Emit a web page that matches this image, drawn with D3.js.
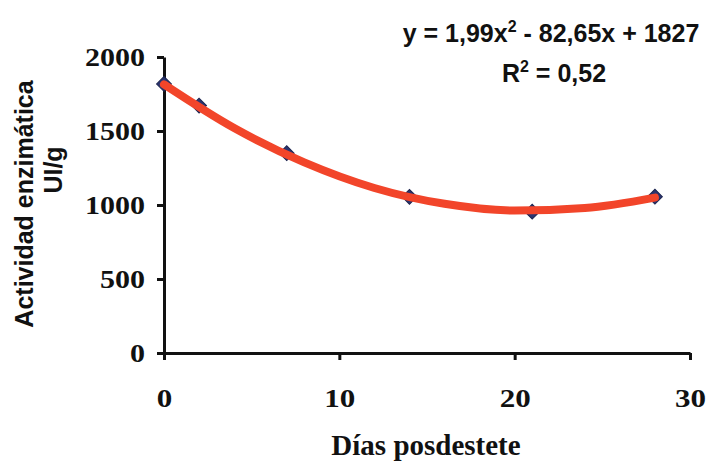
<!DOCTYPE html>
<html lang="es">
<head>
  <meta charset="UTF-8"/>
  <title>Actividad enzimática</title>
  <script src="https://d3js.org/d3.v7.min.js"></script>
  <style>
    body { margin: 0; background: #fff; }
    .serif { font-family: "Liberation Serif", "Times New Roman", serif; font-weight: bold; }
    .sans  { font-family: "Liberation Sans", Arial, sans-serif; font-weight: bold; }
  </style>
</head>
<body>
<script>

  // observed points
  var days     = [0, 2, 7, 14, 21, 28];
  var activity = [1818, 1672, 1350, 1055, 955, 1056];

  // polynomial trend line
  var trendDays  = [0, 4, 8, 12, 16, 20, 24, 28];
  var trendVals  = [1815, 1520, 1288, 1115, 1008, 963, 980, 1050];

  var xTicks = [0, 10, 20, 30];
  var yTicks = [0, 500, 1000, 1500, 2000];

  var w = 715;
  var h = 462;

  var x = d3.scaleLinear().domain([0, 30]).range([164, 690]);
  var y = d3.scaleLinear().domain([0, 2000]).range([353, 57]);

  var svg = d3.select("body")
              .append("svg")
              .attr("width", w)
              .attr("height", h);

  // y axis
  var yAxis = svg.append("g")
     .attr("transform", "translate(" + x(0) + ",0)")
     .call(d3.axisLeft(y).tickValues(yTicks).tickFormat(d3.format("d"))
             .tickSize(7).tickSizeOuter(0).tickPadding(12));

  yAxis.selectAll("text")
       .attr("class", "serif")
       .style("font-size", "25px")
       .attr("dy", "0.33em")
       .attr("textLength", function(d) { return String(d).length * 15; })
       .attr("lengthAdjust", "spacingAndGlyphs")
       .attr("fill", "#111");

  // x axis
  var xAxis = svg.append("g")
     .attr("transform", "translate(0," + y(0) + ")")
     .call(d3.axisBottom(x).tickValues(xTicks).tickFormat(d3.format("d"))
             .tickSize(7).tickSizeOuter(0));

  xAxis.selectAll("text")
       .attr("class", "serif")
       .style("font-size", "26px")
       .attr("y", 54)
       .attr("dy", 0)
       .attr("textLength", function(d) { return String(d).length * 15.5; })
       .attr("lengthAdjust", "spacingAndGlyphs")
       .attr("fill", "#111");

  svg.selectAll(".domain, .tick line")
     .attr("stroke", "#111")
     .attr("stroke-width", 3);

  // trend curve
  var line = d3.line()
               .x(function(d, i) { return x(trendDays[i]); })
               .y(function(d) { return y(d); })
               .curve(d3.curveMonotoneX);

  // markers
  svg.selectAll("path.pt")
     .data(days)
     .enter()
     .append("path")
     .attr("class", "pt")
     .attr("d", d3.symbol().type(d3.symbolSquare).size(110))
     .attr("transform", function(d, i) {
        return "translate(" + x(d) + "," + y(activity[i]) + ") rotate(45)";
     })
     .attr("fill", "#2a3570")
     .attr("stroke", "#1d2550")
     .attr("stroke-width", 1);

  svg.append("path")
     .datum(trendVals)
     .attr("d", line)
     .attr("fill", "none")
     .attr("stroke", "#f2452a")
     .attr("stroke-width", 8)
     .attr("stroke-linecap", "round");

  // axis titles
  svg.append("text")
     .attr("class", "serif")
     .attr("x", 426)
     .attr("y", 455)
     .attr("text-anchor", "middle")
     .style("font-size", "29px")
     .attr("fill", "#111")
     .text("Días posdestete");

  svg.append("text")
     .attr("class", "sans")
     .attr("transform", "translate(33,204) rotate(-90)")
     .attr("text-anchor", "middle")
     .style("font-size", "25px")
     .attr("fill", "#111")
     .text("Actividad enzimática");

  svg.append("text")
     .attr("class", "sans")
     .attr("transform", "translate(62,170) rotate(-90)")
     .attr("text-anchor", "middle")
     .style("font-size", "25px")
     .attr("fill", "#111")
     .text("UI/g");

  // equation
  var eq = svg.append("text")
     .attr("class", "sans")
     .attr("x", 551)
     .attr("y", 42)
     .attr("text-anchor", "middle")
     .style("font-size", "25px")
     .attr("fill", "#111");
  eq.append("tspan").text("y = 1,99x");
  eq.append("tspan").attr("dy", -10).style("font-size", "16px").text("2");
  eq.append("tspan").attr("dy", 10).text(" - 82,65x + 1827");

  var r2 = svg.append("text")
     .attr("class", "sans")
     .attr("x", 554)
     .attr("y", 82)
     .attr("text-anchor", "middle")
     .style("font-size", "25px")
     .attr("fill", "#111");
  r2.append("tspan").text("R");
  r2.append("tspan").attr("dy", -10).style("font-size", "16px").text("2");
  r2.append("tspan").attr("dy", 10).text(" = 0,52");

</script>
</body>
</html>
